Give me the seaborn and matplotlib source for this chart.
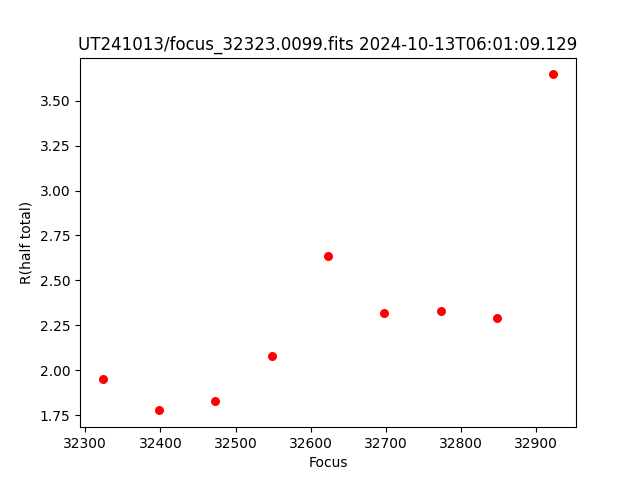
import matplotlib
matplotlib.use("Agg")
import matplotlib.pyplot as plt
import seaborn as sns
import pandas as pd

focus = [32323, 32398, 32473, 32548, 32623, 32698, 32773, 32848, 32923]
r_half = [1.949, 1.776, 1.826, 2.078, 2.635, 2.318, 2.329, 2.290, 3.647]

df = pd.DataFrame({"Focus": focus, "R(half total)": r_half})

fig, ax = plt.subplots(figsize=(6.4, 4.8), dpi=100)
sns.scatterplot(data=df, x="Focus", y="R(half total)", color="red", s=42,
                linewidth=0, ax=ax)
ax.set_title("UT241013/focus_32323.0099.fits 2024-10-13T06:01:09.129")
ax.set_xlabel("Focus")
ax.set_ylabel("R(half total)")
fig.savefig("out.png", dpi=100)
